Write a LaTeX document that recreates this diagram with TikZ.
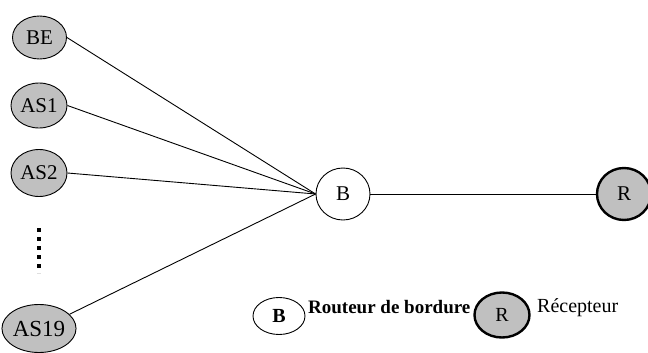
\documentclass[tikz,border=0pt]{standalone}
\usepackage{fontspec}
\setmainfont{Liberation Serif}
\usetikzlibrary{shapes.geometric}
\definecolor{nodegray}{RGB}{192,192,192}
\tikzset{
  asnode/.style={ellipse, draw=black, line width=0.9pt, fill=nodegray, inner sep=0pt,
    font=\fontsize{21}{24}\selectfont},
  bnode/.style={ellipse, draw=black, line width=0.9pt, fill=white, inner sep=0pt,
    font=\fontsize{21}{24}\selectfont},
  rnode/.style={ellipse, draw=black, line width=2.4pt, fill=nodegray, inner sep=0pt,
    font=\fontsize{21}{24}\selectfont},
  link/.style={draw=black, line width=0.9pt},
  legtext/.style={anchor=base west, inner sep=0pt, font=\fontsize{20}{23}\selectfont}
}
\begin{document}
\begin{tikzpicture}[x=1pt,y=-1pt]
\useasboundingbox (0,0) rectangle (648,353);
\node[asnode, minimum width=54pt, minimum height=43pt] (BE) at (39.5,37.5) {BE};
\node[asnode, minimum width=56pt, minimum height=45pt] (AS1) at (39,105.5) {AS1};
\node[asnode, minimum width=56pt, minimum height=47pt] (AS2) at (39,173) {AS2};
\node[asnode, minimum width=56pt, minimum height=48pt, font=\fontsize{23}{26}\selectfont] (AS19) at (39,328.5) {AS19};
\node[bnode, minimum width=54pt, minimum height=52pt] (B) at (343,194) {B};
\node[rnode, minimum width=54pt, minimum height=52pt] (R) at (624,194) {R};
\coordinate (dtop) at (39,228);
\coordinate (dbot) at (39,273);
\draw[line width=4pt, dash pattern=on 4pt off 5pt] (dtop) -- (dbot);
\draw[link] (BE.east) -- (B.west);
\draw[link] (AS1.east) -- (B.west);
\draw[link] (AS2.east) -- (B.west);
\draw[link] (AS19.25) -- (B.west);
\draw[link] (B.east) -- (R.west);
% legend
\node[bnode, minimum width=52pt, minimum height=37pt, font=\fontsize{20}{23}\selectfont\bfseries] (LB) at (279,316) {B};
\node[legtext, font=\fontsize{19}{22}\selectfont\bfseries] (LBt) at (308,313) {Routeur de bordure};
\node[rnode, minimum width=55pt, minimum height=45pt, font=\fontsize{20}{23}\selectfont] (LR) at (502,315) {R};
\node[legtext] (LRt) at (537,312) {Récepteur};
\end{tikzpicture}
\end{document}
